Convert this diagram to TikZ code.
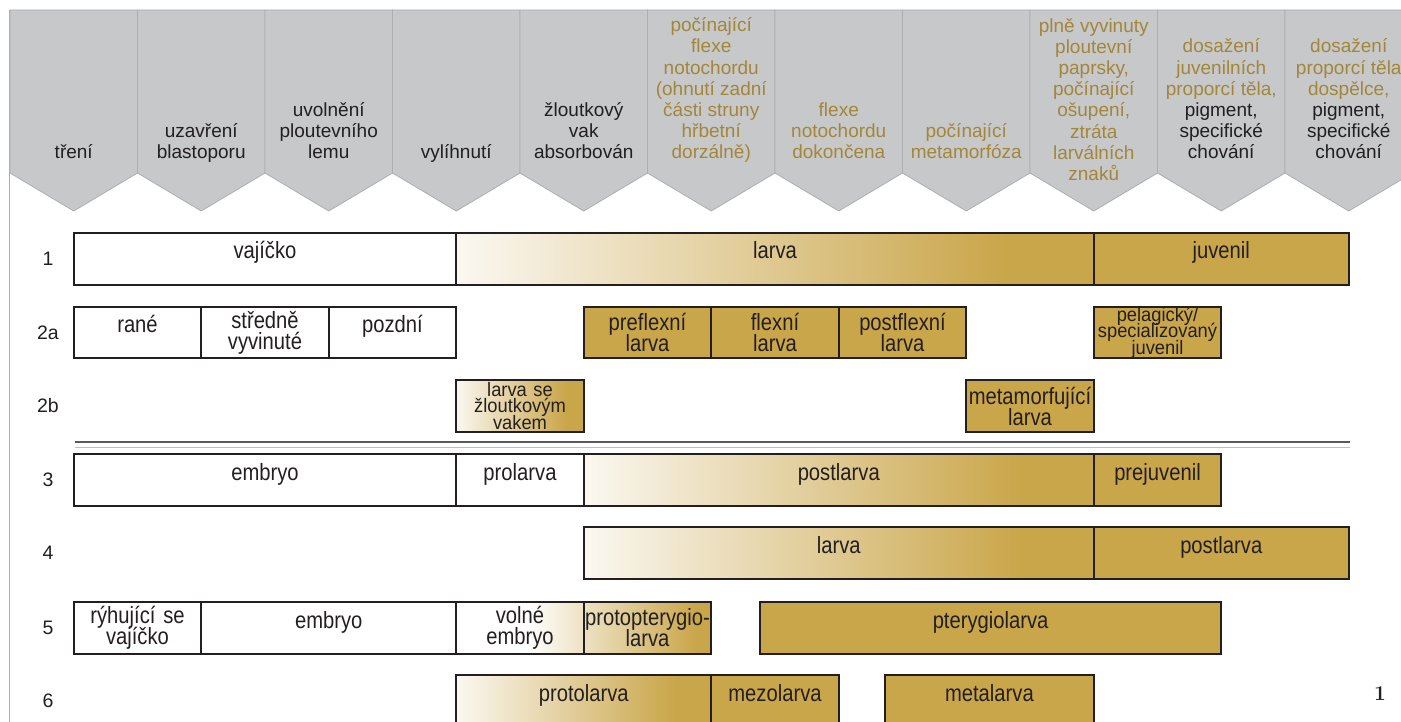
\documentclass[tikz,border=0pt]{standalone}
\usepackage{fontspec}
\newfontfamily\hfont{Liberation Sans}
\newfontfamily\nfont[FakeStretch=0.86]{Liberation Sans}
\newfontfamily\tfont[FakeStretch=0.94]{Liberation Sans}
\definecolor{hgray}{RGB}{198,200,201}
\definecolor{hline}{RGB}{172,174,176}
\definecolor{gold}{RGB}{202,166,74}
\definecolor{goldtxt}{RGB}{164,134,58}
\definecolor{cream}{RGB}{251,248,241}
\definecolor{ink}{RGB}{35,31,32}
\definecolor{sepdark}{RGB}{90,90,90}
\definecolor{seplight}{RGB}{190,190,190}
\pgfdeclarehorizontalshading{goldfade}{100bp}{color(0bp)=(cream); color(25bp)=(cream); color(68bp)=(gold); color(100bp)=(gold)}
\pgfdeclarehorizontalshading{embfade}{100bp}{color(0bp)=(white); color(39bp)=(white); color(72bp)=(gold); color(100bp)=(gold)}
\newcommand\goldline[1]{\textcolor{goldtxt}{#1}}
\begin{document}
\begin{tikzpicture}[x=1pt,y=-1pt,
  chev/.style={fill=hgray, draw=hline, line width=0.8pt},
  htxt/.style={anchor=base, inner sep=0pt, text=ink, font=\hfont\fontsize{19pt}{21.2pt}\selectfont},
  hgold/.style={htxt, text=goldtxt},
  lbl/.style={inner sep=0pt, text=ink, font=\hfont\fontsize{19.5pt}{22pt}\selectfont},
  stg/.style={draw=ink, line width=2.4pt, inner sep=0pt, align=center, text=ink,
              font={\nfont\fontsize{23.5pt}{21pt}\selectfont\lineskiplimit=-30pt}},
  one/.style={text height=12pt, text depth=12pt},
  multi/.style={text width=127pt},
  tight/.style={multi, inner ysep=-2pt, font={\tfont\fontsize{19.5pt}{16.5pt}\selectfont\lineskiplimit=-30pt}},
  boxw/.style={stg, fill=white},
  boxg/.style={stg, fill=gold},
  boxf/.style={stg, shade, shading=goldfade},
  boxo/.style={stg},
  sepd/.style={draw=sepdark, line width=1.6pt},
  sepl/.style={draw=seplight, line width=0.9pt},
  border/.style={draw=hline, line width=1.2pt}
]
\useasboundingbox (0,0) rectangle (1401,722);
\clip (0,0) rectangle (1401,722);
\fill[white] (0,0) rectangle (1401,722);

% header chevrons
\foreach \k in {0,...,10}{
  \pgfmathsetmacro\xa{10+127.5*\k}
  \pgfmathsetmacro\xb{\xa+127.5}
  \pgfmathsetmacro\xm{\xa+63.75}
  \filldraw[chev] (\xa,10) -- (\xb,10) -- (\xb,173) -- (\xm,211) -- (\xa,173) -- cycle;
}
\coordinate (lb1) at (9.5,10);
\coordinate (lb2) at (9.5,722);
\draw[border] (lb1) -- (lb2);

% header texts
\node[htxt] (h1) at (73.75,159) {\begin{tabular}[b]{@{}c@{}}tření\end{tabular}};
\node[htxt] (h2) at (201.25,159) {\begin{tabular}[b]{@{}c@{}}uzavření\\blastoporu\end{tabular}};
\node[htxt] (h3) at (328.75,159) {\begin{tabular}[b]{@{}c@{}}uvolnění\\ploutevního\\lemu\end{tabular}};
\node[htxt] (h4) at (456.25,159) {\begin{tabular}[b]{@{}c@{}}vylíhnutí\end{tabular}};
\node[htxt] (h5) at (583.75,159) {\begin{tabular}[b]{@{}c@{}}žloutkový\\vak\\absorbován\end{tabular}};
\node[hgold] (h6) at (711.25,159) {\begin{tabular}[b]{@{}c@{}}počínající\\flexe\\notochordu\\(ohnutí zadní\\části struny\\hřbetní\\dorzálně)\end{tabular}};
\node[hgold] (h7) at (838.75,159) {\begin{tabular}[b]{@{}c@{}}flexe\\notochordu\\dokončena\end{tabular}};
\node[hgold] (h8) at (966.25,159) {\begin{tabular}[b]{@{}c@{}}počínající\\metamorfóza\end{tabular}};
\node[hgold] (h9) at (1093.75,181) {\begin{tabular}[b]{@{}c@{}}plně vyvinuty\\ploutevní\\paprsky,\\počínající\\ošupení,\\ztráta\\larválních\\znaků\end{tabular}};
\node[htxt] (h10) at (1221.25,159) {\begin{tabular}[b]{@{}c@{}}\goldline{dosažení}\\\goldline{juvenilních}\\\goldline{proporcí těla,}\\pigment,\\specifické\\chování\end{tabular}};
\node[htxt] (h11) at (1348.75,159) {\begin{tabular}[b]{@{}c@{}}\goldline{dosažení}\\\goldline{proporcí těla}\\\goldline{dospělce,}\\pigment,\\specifické\\chování\end{tabular}};

% row labels
\node[lbl] (l1) at (48,259) {1};
\node[lbl] (l2a) at (48,332.5) {2a};
\node[lbl] (l2b) at (48,406) {2b};
\node[lbl] (l3) at (48,480) {3};
\node[lbl] (l4) at (48,553) {4};
\node[lbl] (l5) at (48,628) {5};
\node[lbl] (l6) at (48,701) {6};

% row 1
\node[boxw, one, minimum width=382.5pt, minimum height=52pt] (r1a) at (265,259) {vajíčko};
\node[boxf, one, minimum width=637.5pt, minimum height=52pt] (r1b) at (775,259) {larva};
\node[boxg, one, minimum width=255pt, minimum height=52pt] (r1c) at (1221.25,259) {juvenil};

% row 2a
\node[boxw, one, minimum width=127.5pt, minimum height=51pt] (r2a1) at (137.5,332.5) {rané};
\node[boxw, multi, minimum width=127.5pt, minimum height=51pt] (r2a2) at (265,332.5) {středně\\vyvinuté};
\node[boxw, one, minimum width=127.5pt, minimum height=51pt] (r2a3) at (392.5,332.5) {pozdní};
\node[boxg, multi, minimum width=127.5pt, minimum height=51pt] (r2a4) at (647.5,332.5) {preflexní\\larva};
\node[boxg, multi, minimum width=127.5pt, minimum height=51pt] (r2a5) at (775,332.5) {flexní\\larva};
\node[boxg, multi, minimum width=127.5pt, minimum height=51pt] (r2a6) at (902.5,332.5) {postflexní\\larva};
\node[boxg, tight, minimum width=127.5pt, minimum height=51pt] (r2a7) at (1157.5,332.5) {pelagický/\\specializovaný\\juvenil};

% row 2b
\node[boxf, tight, minimum width=127.5pt, minimum height=52pt] (r2b1) at (520,406) {larva se\\žloutkovým\\vakem};
\node[boxg, multi, minimum width=127.5pt, minimum height=52pt] (r2b2) at (1030,406) {metamorfující\\larva};

% separator
\coordinate (s1) at (75,442);
\coordinate (s2) at (1350,442);
\coordinate (s3) at (75,447);
\coordinate (s4) at (1350,447);
\draw[sepd] (s1) -- (s2);
\draw[sepl] (s3) -- (s4);

% row 3
\node[boxw, one, minimum width=382.5pt, minimum height=52pt] (r3a) at (265,480) {embryo};
\node[boxw, one, minimum width=127.5pt, minimum height=52pt] (r3b) at (520,480) {prolarva};
\node[boxf, one, minimum width=510pt, minimum height=52pt] (r3c) at (838.75,480) {postlarva};
\node[boxg, one, minimum width=127.5pt, minimum height=52pt] (r3d) at (1157.5,480) {prejuvenil};

% row 4
\node[boxf, one, minimum width=510pt, minimum height=52pt] (r4a) at (838.75,553) {larva};
\node[boxg, one, minimum width=255pt, minimum height=52pt] (r4b) at (1221.25,553) {postlarva};

% row 5
\shade[shading=embfade] (456.25,602) rectangle (711.25,654);
\node[boxw, multi, minimum width=127.5pt, minimum height=52pt] (r5a) at (137.5,628) {rýhující se\\vajíčko};
\node[boxw, one, minimum width=255pt, minimum height=52pt] (r5b) at (328.75,628) {embryo};
\node[boxo, multi, minimum width=127.5pt, minimum height=52pt] (r5c) at (520,628) {volné\\embryo};
\node[boxo, multi, minimum width=127.5pt, minimum height=52pt] (r5d) at (647.5,628) {protopterygio-\\larva};
\node[boxg, one, minimum width=461.25pt, minimum height=52pt] (r5e) at (990.6,628) {pterygiolarva};

% row 6
\node[boxf, one, minimum width=255pt, minimum height=52pt] (r6a) at (583.75,701) {protolarva};
\node[boxg, one, minimum width=127.5pt, minimum height=52pt] (r6b) at (775,701) {mezolarva};
\node[boxg, one, minimum width=208.75pt, minimum height=52pt] (r6c) at (989.4,701) {metalarva};

% figure number
\node[inner sep=0pt, text=ink, font=\fontsize{21pt}{24pt}\selectfont\bfseries] (fig) at (1380,694) {1};
\end{tikzpicture}
\end{document}
